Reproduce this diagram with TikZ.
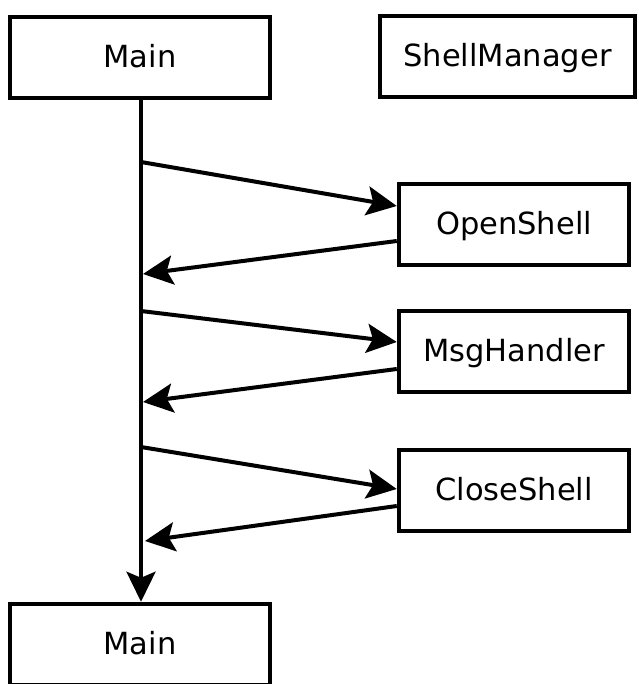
\documentclass[tikz,border=0pt]{standalone}
\usepackage{fontspec}
\setmainfont{DejaVu Sans}
\usetikzlibrary{arrows.meta,calc}

\tikzset{
  objbox/.style={draw, line width=4pt, rectangle, inner sep=0pt,
    minimum width=260.5pt, minimum height=81.5pt,
    text height=26pt, text depth=6pt,
    font=\fontsize{30.5}{36}\selectfont},
  callbox/.style={objbox, minimum width=230.5pt},
  msg/.style={line width=4pt, -{Stealth[length=30pt,width=29pt,inset=6pt]}},
}

\begin{document}
\begin{tikzpicture}[x=1pt, y=-1pt]
  \useasboundingbox (0,0) rectangle (638,684);

  % participants
  \node[objbox] (main) at (140,57.5) {Main};
  \node[objbox, minimum width=255.5pt] (mgr) at (507.5,56.5) {ShellManager};
  \node[objbox] (mainend) at (140,644.5) {Main};

  % calls handled by the shell manager
  \node[callbox] (open) at (514,224.5) {OpenShell};
  \node[callbox] (msgh) at (514,351.5) {MsgHandler};
  \node[callbox] (close) at (514,490.5) {CloseShell};

  % lifeline of Main
  \draw[msg] (main.south -| 141,0) -- (mainend.north -| 141,0);

  % points on the lifeline
  \coordinate (c1) at (141,162);
  \coordinate (r1) at (143,274);
  \coordinate (c2) at (141,311);
  \coordinate (r2) at (143,402);
  \coordinate (c3) at (141,447);
  \coordinate (r3) at (145,541);

  % calls and returns
  \draw[msg] (c1) -- ([yshift=18.5pt]open.west);
  \draw[msg] ([yshift=-16.5pt]open.west) -- (r1);
  \draw[msg] (c2) -- ([yshift=9.5pt]msgh.west);
  \draw[msg] ([yshift=-17.5pt]msgh.west) -- (r2);
  \draw[msg] (c3) -- ([yshift=1.5pt]close.west);
  \draw[msg] ([yshift=-15.5pt]close.west) -- (r3);
\end{tikzpicture}
\end{document}
